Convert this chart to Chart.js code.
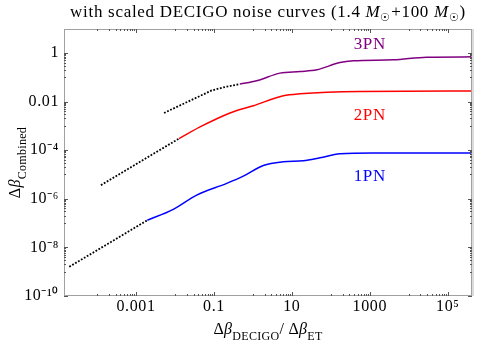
<!DOCTYPE html>
<html>
<head>
<meta charset="utf-8">
<script src="https://cdn.jsdelivr.net/npm/chart.js@4.4.1/dist/chart.umd.min.js"></script>
<style>
  body { margin: 0; background: #fff; }
  canvas { display: block; }
</style>
</head>
<body>
<canvas id="c" width="498" height="346"></canvas>
<script>
// x: delta beta DECIGO / delta beta ET, y: combined delta beta
const pn1DotX = [1.94e-5, 1.95e-3];
const pn1DotY = [1.59e-9, 1.30e-7];
const pn1X = [1.95e-3, 9.07e-3, 0.0361, 0.213, 0.568, 1.85, 6.04, 19.7, 52.8, 172, 1230, 4.2e5];
const pn1Y = [1.30e-7, 3.68e-7, 1.42e-6, 4.28e-6, 8.51e-6, 2.34e-5, 3.31e-5, 3.64e-5, 4.83e-5, 7.05e-5, 7.6e-5, 7.6e-5];

const pn2DotX = [1.26e-4, 0.0127];
const pn2DotY = [3.64e-6, 2.99e-4];
const pn2X = [0.0127, 0.044, 0.259, 1.03, 6.04, 16.2, 561, 4.2e5];
const pn2Y = [2.99e-4, 9.02e-4, 3.38e-3, 6.73e-3, 0.0173, 0.0209, 0.0259, 0.0269];

const pn3DotX = [5.24e-3, 0.0877, 0.204, 0.467];
const pn3DotY = [3.38e-3, 0.0285, 0.0404, 0.0521];
const pn3X = [0.467, 1.25, 4.97, 16.2, 43.5, 172, 378, 4020, 2.89e4, 4.2e5];
const pn3Y = [0.0521, 0.0711, 0.147, 0.171, 0.201, 0.400, 0.470, 0.516, 0.667, 0.686];

const xLabelTicks = [0.001, 0.1, 10, 1000, 1e5];
const yLabelTicks = [1e-10, 1e-8, 1e-6, 1e-4, 0.01, 1];
const seriesNames = ['1PN', '2PN', '3PN'];
const seriesColors = ['#0000ff', '#ff0000', '#800080'];
const nameAtX = 1000;
const nameAtY = [8.5e-6, 2.7e-3, 2.3];

const pts = (xs, ys) => xs.map((x, i) => ({ x, y: ys[i] }));
const SERIF = '"Liberation Serif", "Times New Roman", serif';

function fmtTick(v) {
  const sup = { '-': '\u207B', '0': '\u2070', '1': '\u00B9', '2': '\u00B2', '3': '\u00B3', '4': '\u2074',
    '5': '\u2075', '6': '\u2076', '7': '\u2077', '8': '\u2078', '9': '\u2079' };
  const e = Math.round(Math.log10(v));
  if (e >= -3 && e <= 3) return e < 0 ? v.toFixed(-e) : String(Math.round(v));
  return '10' + String(e).split('').map(c => sup[c]).join('');
}

function richText(ctx, parts, x, y) {
  let w = 0;
  parts.forEach(p => { ctx.font = p[1]; w += ctx.measureText(p[0]).width; });
  let cx = x - w / 2;
  parts.forEach(p => {
    ctx.font = p[1];
    ctx.fillText(p[0], cx, y + (p[2] || 0));
    cx += ctx.measureText(p[0]).width;
  });
}

const dotted = (data) => ({
  data, borderColor: '#000', borderWidth: 1.8, borderDash: [1.8, 1.6], pointRadius: 0, tension: 0
});
const solid = (data, color) => ({
  data, borderColor: color, borderWidth: 1.5, pointRadius: 0, cubicInterpolationMode: 'monotone'
});

// slightly wider letter spacing, like the original renderer
const spacingPlugin = {
  id: 'spacing',
  beforeInit(chart) { chart.ctx.letterSpacing = '0.6px'; },
  beforeDraw(chart) { chart.ctx.letterSpacing = '0.6px'; }
};

const framePlugin = {
  id: 'frame',
  afterDraw(chart) {
    const { ctx, chartArea: a, scales } = chart;
    ctx.save();
    // frame
    ctx.strokeStyle = '#a0a0a0';
    ctx.lineWidth = 1;
    ctx.strokeRect(a.left + 0.5, a.top + 0.5, a.right - a.left - 1, a.bottom - a.top - 1);
    ctx.strokeStyle = '#dcdcdc';
    ctx.lineWidth = 2;
    ctx.beginPath(); ctx.moveTo(a.right + 1, a.top); ctx.lineTo(a.right + 1, a.bottom); ctx.stroke();

    // inward ticks, mathematica style
    ctx.strokeStyle = '#555';
    ctx.lineWidth = 1;
    const tickSet = (labels) => {
      const out = [];
      labels.concat([labels[labels.length - 1] * 100]).forEach(L => {
        out.push([L, 4]);
        for (let k = 1; k <= 9; k++) out.push([L / 10 * k, 2]);
      });
      return out;
    };
    tickSet(xLabelTicks).forEach(([v, len]) => {
      if (v < scales.x.min || v > scales.x.max) return;
      const px = Math.round(scales.x.getPixelForValue(v)) + 0.5;
      ctx.beginPath();
      ctx.moveTo(px, a.bottom); ctx.lineTo(px, a.bottom - len);
      ctx.moveTo(px, a.top); ctx.lineTo(px, a.top + len);
      ctx.stroke();
    });
    tickSet(yLabelTicks).forEach(([v, len]) => {
      if (v < scales.y.min || v > scales.y.max) return;
      const py = Math.round(scales.y.getPixelForValue(v)) + 0.5;
      ctx.beginPath();
      ctx.moveTo(a.left, py); ctx.lineTo(a.left + len, py);
      ctx.moveTo(a.right, py); ctx.lineTo(a.right - len, py);
      ctx.stroke();
    });

    // series names
    ctx.textAlign = 'center';
    ctx.textBaseline = 'middle';
    ctx.font = '17px ' + SERIF;
    seriesNames.forEach((n, i) => {
      ctx.fillStyle = seriesColors[i];
      ctx.fillText(n, scales.x.getPixelForValue(nameAtX), scales.y.getPixelForValue(nameAtY[i]));
    });

    // title and axis titles
    ctx.fillStyle = '#000';
    ctx.textAlign = 'left';
    ctx.textBaseline = 'alphabetic';
    ctx.letterSpacing = '0.7px';
    const n17 = '17px ' + SERIF, i17 = 'italic 17px ' + SERIF, s11 = '11px ' + SERIF;
    richText(ctx, [
      ['with scaled DECIGO noise curves (1.4 ', n17], ['M', i17], ['\u2609', s11, 4],
      ['+100 ', n17], ['M', i17], ['\u2609', s11, 4], [')', n17]
    ], (a.left + a.right) / 2, 17);

    ctx.letterSpacing = '0.3px';
    const n16 = '16px ' + SERIF, i16 = 'italic 16px ' + SERIF, s12 = '12px ' + SERIF;
    richText(ctx, [
      ['\u0394', n16], ['\u03B2', i16], ['DECIGO', s12, 6], ['/ \u0394', n16], ['\u03B2', i16], ['ET', s12, 6]
    ], (a.left + a.right) / 2, 334);

    ctx.translate(20, (a.top + a.bottom) / 2);
    ctx.rotate(-Math.PI / 2);
    richText(ctx, [['\u0394', n16], ['\u03B2', i16], ['Combined', s12, 6]], 0, 0);
    ctx.restore();
  }
};

new Chart(document.getElementById('c'), {
  type: 'line',
  data: {
    datasets: [
      dotted(pts(pn1DotX, pn1DotY)),
      dotted(pts(pn2DotX, pn2DotY)),
      dotted(pts(pn3DotX, pn3DotY)),
      solid(pts(pn1X, pn1Y), seriesColors[0]),
      solid(pts(pn2X, pn2Y), seriesColors[1]),
      solid(pts(pn3X, pn3Y), seriesColors[2])
    ]
  },
  options: {
    responsive: false,
    devicePixelRatio: 1,
    animation: false,
    layout: { padding: { top: 29, right: 26, left: 0, bottom: 0 } },
    plugins: { legend: { display: false }, tooltip: { enabled: false } },
    scales: {
      x: {
        type: 'logarithmic',
        min: 1.42e-5,
        max: 4.2e5,
        grid: { display: false, drawTicks: false },
        border: { display: false },
        afterBuildTicks: s => { s.ticks = xLabelTicks.map(v => ({ value: v })); },
        afterFit: s => { s.height = 50; },
        ticks: {
          autoSkip: false, maxRotation: 0, padding: 1, color: '#000',
          font: { family: SERIF, size: 16 },
          callback: v => fmtTick(v)
        }
      },
      y: {
        type: 'logarithmic',
        min: 1e-10,
        max: 9.6,
        grid: { display: false, drawTicks: false },
        border: { display: false },
        afterBuildTicks: s => { s.ticks = yLabelTicks.map(v => ({ value: v })); },
        afterFit: s => { s.width = 64; },
        ticks: {
          autoSkip: false, padding: 5, color: '#000',
          font: { family: SERIF, size: 16 },
          callback: v => fmtTick(v)
        }
      }
    }
  },
  plugins: [spacingPlugin, framePlugin]
});
</script>
</body>
</html>
